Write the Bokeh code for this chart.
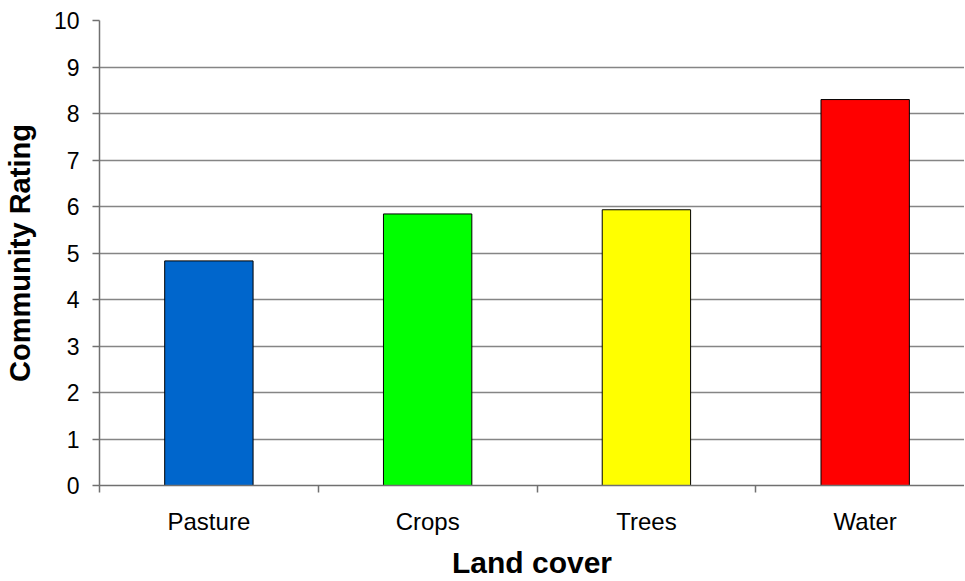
from bokeh.plotting import figure
from bokeh.models import Range1d, FixedTicker
from bokeh.embed import file_html
from bokeh.resources import INLINE

categories = ["Pasture", "Crops", "Trees", "Water"]
ratings = [4.83, 5.84, 5.93, 8.30]
bar_colors = ["#0066CC", "#00FF00", "#FFFF00", "#FF0000"]
y_ticks = [0, 1, 2, 3, 4, 5, 6, 7, 8, 9, 10]

x_pos = [i + 0.5 for i in range(len(categories))]
boundaries = [i for i in range(len(categories) + 1)]

FONT = "Liberation Sans"
AX = "#707070"
GRID = "#858585"

p = figure(frame_width=865, frame_height=465,
           x_range=Range1d(0, 3.954), y_range=Range1d(0, 10),
           output_backend="svg", toolbar_location=None,
           min_border_left=92, min_border_right=0, min_border_top=20,
           min_border_bottom=87)
p.outline_line_color = None
p.background_fill_color = "white"
p.border_fill_color = "white"

p.vbar(x=x_pos, top=ratings, width=0.404, bottom=0,
       fill_color=bar_colors, line_color="black", line_width=1)

# y axis
p.yaxis.ticker = FixedTicker(ticks=y_ticks)
p.yaxis.minor_tick_line_color = None
p.yaxis.major_tick_in = 0
p.yaxis.major_tick_out = 7
p.yaxis.major_tick_line_color = AX
p.yaxis.major_tick_line_width = 1.5
p.yaxis.axis_line_color = AX
p.yaxis.axis_line_width = 1.5
p.yaxis.major_label_standoff = 13
p.yaxis.major_label_text_font = FONT
p.yaxis.major_label_text_font_size = "23px"
p.yaxis.major_label_text_color = "black"
p.yaxis.axis_label = "Community Rating"
p.yaxis.axis_label_text_font = FONT
p.yaxis.axis_label_text_font_size = "29px"
p.yaxis.axis_label_text_font_style = "bold"
p.yaxis.axis_label_text_color = "black"
p.yaxis.axis_label_standoff = 15

# x axis
p.xaxis.ticker = FixedTicker(ticks=x_pos, minor_ticks=boundaries)
p.xaxis.major_label_overrides = {x: c for x, c in zip(x_pos, categories)}
p.xaxis.major_tick_line_color = None
p.xaxis.major_tick_in = 0
p.xaxis.major_tick_out = 7
p.xaxis.minor_tick_in = 0
p.xaxis.minor_tick_out = 7
p.xaxis.minor_tick_line_color = AX
p.xaxis.minor_tick_line_width = 1.5
p.xaxis.axis_line_color = AX
p.xaxis.axis_line_width = 1.5
p.xaxis.major_label_standoff = 15
p.xaxis.major_label_text_font = FONT
p.xaxis.major_label_text_font_size = "24px"
p.xaxis.major_label_text_color = "black"
p.xaxis.axis_label = "Land cover"
p.xaxis.axis_label_text_font = FONT
p.xaxis.axis_label_text_font_size = "30px"
p.xaxis.axis_label_text_font_style = "bold"
p.xaxis.axis_label_text_color = "black"
p.xaxis.axis_label_standoff = 8

p.xgrid.grid_line_color = None
p.ygrid.ticker = FixedTicker(ticks=y_ticks)
p.ygrid.grid_line_color = GRID
p.ygrid.grid_line_width = 1.5

open("out.html", "w").write(file_html(p, INLINE))
